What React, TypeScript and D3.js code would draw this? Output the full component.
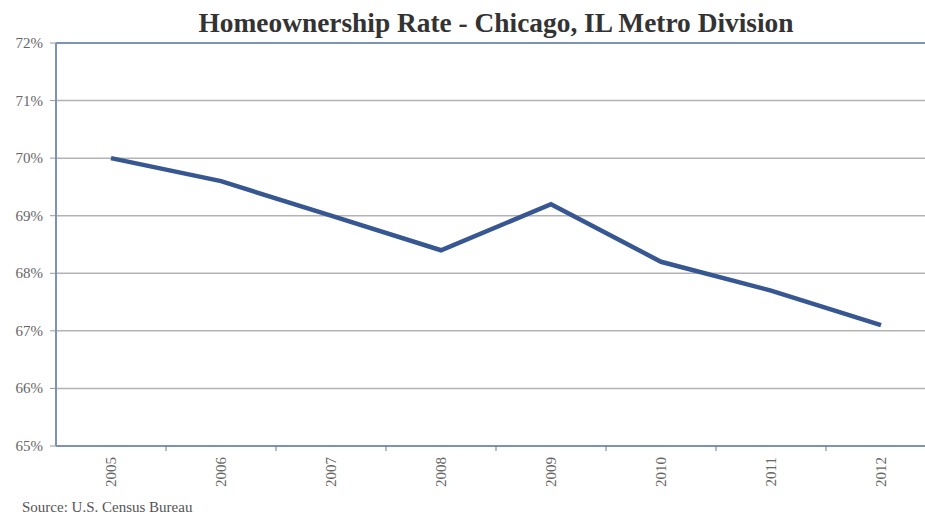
import * as d3 from "d3";

const years = ["2005", "2006", "2007", "2008", "2009", "2010", "2011", "2012"];
const rates = [70.0, 69.6, 69.0, 68.4, 69.2, 68.2, 67.7, 67.1];
const yTicks = [65, 66, 67, 68, 69, 70, 71, 72];

const W = 925;
const H = 518;
const margin = { top: 43, right: -11, bottom: 72, left: 56 };
const font = "Liberation Serif";

export default function App() {
	const scaleX = d3
		.scaleBand()
		.domain(years)
		.range([margin.left, W - margin.right]);

	const scaleY = d3
		.scaleLinear()
		.domain([65, 72])
		.range([H - margin.bottom, margin.top]);

	const line = d3
		.line<number>()
		.x((d, i) => scaleX(years[i])! + scaleX.bandwidth() / 2)
		.y(d => scaleY(d));

	const axisColor = "#7d93b6";
	const bottom = scaleY(65);

	return (
		<svg width={W} height={H} style={{ position: "absolute", left: 0, top: 0, background: "#fff" }}>
			<text x={496} y={32} textAnchor="middle" fontFamily={font} fontWeight="bold" fontSize={27}
				fill="#333" textLength={595} lengthAdjust="spacingAndGlyphs">
				Homeownership Rate - Chicago, IL Metro Division
			</text>

			{/* сетка */}
			{yTicks.map(t => (
				<g key={t}>
					{t > 65 && t < 72 && (
						<line x1={margin.left} x2={W} y1={scaleY(t)} y2={scaleY(t)} stroke="#b3b3b3" strokeWidth={1.5} />
					)}
					<line x1={margin.left - 6} x2={margin.left} y1={scaleY(t)} y2={scaleY(t)} stroke="#999" strokeWidth={1} />
					<text x={43} y={scaleY(t) + 5} textAnchor="end" fontFamily={font} fontSize={15} fill="#666">
						{t}%
					</text>
				</g>
			))}

			{/* рамка */}
			<line x1={margin.left} x2={W} y1={margin.top} y2={margin.top} stroke={axisColor} strokeWidth={2} />
			<line x1={margin.left} x2={margin.left} y1={margin.top} y2={bottom} stroke={axisColor} strokeWidth={2} />
			<line x1={margin.left} x2={W} y1={bottom} y2={bottom} stroke={axisColor} strokeWidth={2} />

			{years.map(y => {
				const x0 = scaleX(y)!;
				const cx = x0 + scaleX.bandwidth() / 2;
				return (
					<g key={y}>
						<line x1={x0 + scaleX.bandwidth()} x2={x0 + scaleX.bandwidth()} y1={bottom} y2={bottom + 5}
							stroke="#777" strokeWidth={1} />
						<text transform={`translate(${cx + 5}, ${bottom + 11}) rotate(-90)`} textAnchor="end"
							fontFamily={font} fontSize={15} fill="#666">
							{y}
						</text>
					</g>
				);
			})}

			<path d={line(rates) ?? ""} fill="none" stroke="#365792" strokeWidth={4.5} strokeLinejoin="miter" />

			<text x={22} y={512} fontFamily={font} fontSize={15} fill="#555">
				Source: U.S. Census Bureau
			</text>
		</svg>
	);
}
